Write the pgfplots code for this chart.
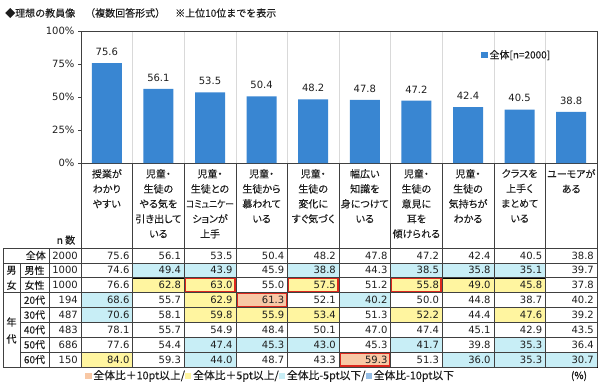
\documentclass[border=0pt]{standalone}
\usepackage{fontspec}
\setmainfont{DejaVu Sans}
\newfontfamily\jp[FakeBold=0.12]{Noto Sans CJK JP}
\newfontfamily\jpp[FakeBold=0.12,RawFeature=+palt]{Noto Sans CJK JP}
\usepackage{graphicx}
\usepackage{pgfplots}
\pgfplotsset{compat=1.18}
\definecolor{barblue}{RGB}{57,134,210}
\definecolor{cor}{RGB}{248,200,165}
\definecolor{cye}{RGB}{255,245,160}
\definecolor{clb}{RGB}{200,238,246}
\definecolor{cmb}{RGB}{150,190,230}
\definecolor{cred}{RGB}{220,40,30}
\definecolor{txt}{RGB}{30,30,30}
\definecolor{grd}{RGB}{217,217,217}
\definecolor{lin}{RGB}{64,64,64}
\begin{document}
\begin{tikzpicture}
\path[use as bounding box] (0pt,0pt) rectangle (600pt,-383pt);
% ---------- bar chart ----------
\begin{axis}[
 at={(81pt,-31pt)}, anchor=north west, scale only axis, width=516pt, height=132pt,
 xmin=-0.5, xmax=9.5, ymin=0, ymax=100,
 ybar, bar width=30pt,
 axis line style={lin, line width=0.8pt},
 xtick={0.5,1.5,...,8.5}, xticklabels={}, xmajorgrids, major x tick style={draw=none},
 x grid style={grd, line width=0.6pt},
 ytick={0,25,50,75,100}, yticklabel={\pgfmathprintnumber{\tick}\%}, ytick pos=left,
 tick align=outside, major tick length=3pt, ytick style={lin},
 yticklabel style={font=\fontsize{10}{12}\selectfont, text=txt},
 /pgf/number format/assume math mode=true,
 nodes near coords={\pgfmathprintnumber[fixed,zerofill,precision=1]{\pgfplotspointmeta}},
 every node near coord/.append style={font=\fontsize{10}{12}\selectfont, text=txt, yshift=4pt},
 legend style={at={(0.775,0.818)}, anchor=west, draw=none, fill=none,
   font=\jp\fontsize{10}{12}\selectfont, text=txt, inner sep=0pt},
 legend image code/.code={\fill[barblue] (0pt,-3.2pt) rectangle (6.4pt,3.2pt);},
]
\addplot[fill=barblue, draw=none] coordinates {(0,75.6)(1,56.1)(2,53.5)(3,50.4)(4,48.2)(5,47.8)(6,47.2)(7,42.4)(8,40.5)(9,38.8)};
\addlegendentry{全体[n=2000]}
\end{axis}
% ---------- table cell shading ----------
\begin{axis}[
 at={(81pt,-248pt)}, anchor=north west, scale only axis, width=516pt, height=119pt,
 xmin=-0.5, xmax=9.5, ymin=-0.5, ymax=7.5, y dir=reverse, hide axis, clip=false]
% -5pt or less
\addplot[only marks, mark=square*, mark size=7.4375pt, mark options={draw=none, fill=clb, xscale=3.469}] coordinates {
 (1,1)(2,1)(4,1)(6,1)(7,1)(8,1)
 (0,3)(5,3)
 (0,4)
 (2,6)(3,6)(4,6)(6,6)(8,6)
 (2,7)(7,7)(8,7)(9,7)};
% +5pt or more
\addplot[only marks, mark=square*, mark size=7.4375pt, mark options={draw=none, fill=cye, xscale=3.469}] coordinates {
 (1,2)(2,2)(4,2)(6,2)(7,2)(8,2)
 (2,3)
 (2,4)(3,4)(4,4)(6,4)(8,4)
 (0,7)};
% +10pt or more
\addplot[only marks, mark=square*, mark size=7.4375pt, mark options={draw=none, fill=cor, xscale=3.469}] coordinates {
 (3,3)(5,7)};
% boxed cells
\addplot[only marks, mark=square, mark size=6.6pt, mark options={draw=cred, line width=1.6pt, xscale=3.758}] coordinates {
 (2,2)(4,2)(6,2)(3,3)(5,7)};
\end{axis}
% ---------- table grid and text ----------
\begin{scope}[x=1pt, y=-1pt]
\foreach \k in {0,...,10} \draw[lin, line width=0.6pt] ({81+51.6*\k},163) -- ({81+51.6*\k},367);
\draw[lin, line width=0.6pt] (3,248)--(3,367);
\draw[lin, line width=0.6pt] (20,263)--(20,367);
\draw[lin, line width=0.6pt] (49,248)--(49,367);
\foreach \k in {0,1,3,8} \draw[lin, line width=0.6pt] (3,{248+14.875*\k}) -- (597,{248+14.875*\k});
\foreach \k in {2,4,5,6,7} \draw[lin, line width=0.6pt] (20,{248+14.875*\k}) -- (597,{248+14.875*\k});
% header
\foreach \t [count=\c from 0] in {{授業が\\わかり\\やすい},{児童・\\生徒の\\やる気を\\引き出して\\いる},{児童・\\生徒との\\\scalebox{0.88}[1]{コミュニケー}\\ションが\\上手},{児童・\\生徒から\\慕われて\\いる},{児童・\\生徒の\\変化に\\すぐ気づく},{幅広い\\知識を\\身につけて\\いる},{児童・\\生徒の\\意見に\\耳を\\傾けられる},{児童・\\生徒の\\気持ちが\\わかる},{クラスを\\上手く\\まとめて\\いる},{ユーモアが\\ある}}
  \node[anchor=north, align=center, inner sep=0pt, font=\jpp\fontsize{10}{15}\selectfont, text=txt] at ({81+51.6*(\c+0.5)},169) {\t};
\node[font=\jp\fontsize{10}{12}\selectfont, text=txt, inner sep=0pt] at (66,240) {n 数};
% row labels
\node[anchor=east, font=\jp\fontsize{10}{12}\selectfont, text=txt, inner sep=0pt] at (46,{248+14.875*0.5}) {全体};
\foreach \lab [count=\r from 1] in {男性,女性,20代,30代,40代,50代,60代}
  \node[font=\jp\fontsize{10}{12}\selectfont, text=txt, inner sep=0pt] at (34.5,{248+14.875*(\r+0.5)}) {\lab};
\node[font=\jp\fontsize{10}{12}\selectfont, text=txt, inner sep=0pt] at (11.5,{248+14.875*1.5}) {男};
\node[font=\jp\fontsize{10}{12}\selectfont, text=txt, inner sep=0pt] at (11.5,{248+14.875*2.5}) {女};
\node[font=\jp\fontsize{10}{12}\selectfont, text=txt, inner sep=0pt] at (11.5,322) {年};
\node[font=\jp\fontsize{10}{12}\selectfont, text=txt, inner sep=0pt] at (11.5,339) {代};
% n
\foreach \n [count=\r from 0] in {2000,1000,1000,194,487,483,686,150}
  \node[anchor=east, font=\fontsize{10}{12}\selectfont, text=txt, inner sep=0pt] at (78,{248+14.875*(\r+0.5)}) {\n};
% values
\foreach \r/\vals in {
 0/{75.6,56.1,53.5,50.4,48.2,47.8,47.2,42.4,40.5,38.8},
 1/{74.6,49.4,43.9,45.9,38.8,44.3,38.5,35.8,35.1,39.7},
 2/{76.6,62.8,63.0,55.0,57.5,51.2,55.8,49.0,45.8,37.8},
 3/{68.6,55.7,62.9,61.3,52.1,40.2,50.0,44.8,38.7,40.2},
 4/{70.6,58.1,59.8,55.9,53.4,51.3,52.2,44.4,47.6,39.2},
 5/{78.1,55.7,54.9,48.4,50.1,47.0,47.4,45.1,42.9,43.5},
 6/{77.6,54.4,47.4,45.3,43.0,45.3,41.7,39.8,35.3,36.4},
 7/{84.0,59.3,44.0,48.7,43.3,59.3,51.3,36.0,35.3,30.7}}
 {\foreach \v [count=\c from 0] in \vals
   \node[anchor=east, font=\fontsize{10}{12}\selectfont, text=txt, inner sep=0pt] at ({81+51.6*(\c+1)-3},{248+14.875*(\r+0.5)}) {\v};}
% title
\node[anchor=west, inner sep=0pt, font=\jp\fontsize{10}{12}\selectfont, text=txt] at (5,13) {◆理想の教員像　（複数回答形式）　※上位10位までを表示};
% bottom legend
\node[anchor=west, inner sep=0pt, font=\jp\fontsize{10.8}{12}\selectfont, text=txt] at (85,376)
 {\textcolor{cor}{\rule{6.4pt}{6.4pt}}\,全体比＋10pt以上/\textcolor{cye}{\rule{6.4pt}{6.4pt}}\,全体比＋5pt以上/\textcolor{clb}{\rule{6.4pt}{6.4pt}}\,全体比-5pt以下/\textcolor{cmb}{\rule{6.4pt}{6.4pt}}\,全体比-10pt以下};
\node[inner sep=0pt, font=\jp\fontsize{10}{12}\selectfont, text=txt] at (579,376) {(\%)};
\end{scope}
\end{tikzpicture}
\end{document}
